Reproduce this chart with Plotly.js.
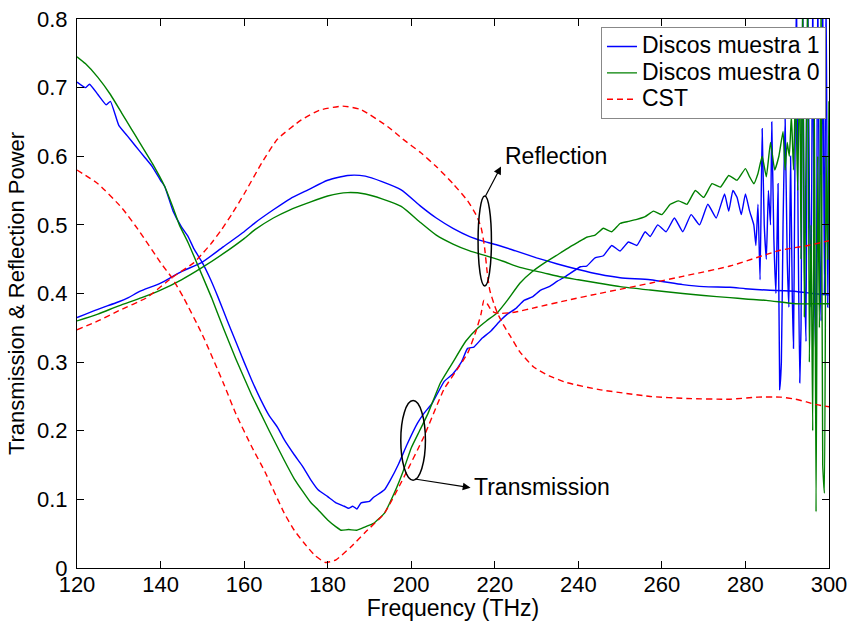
<!DOCTYPE html>
<html>
<head>
<meta charset="utf-8">
<script src="https://cdn.plot.ly/plotly-3.0.1.min.js"></script>
<style>html,body{margin:0;padding:0;background:#fff;}#chart{width:851px;height:621px;}</style>
</head>
<body>
<div id="chart"></div>
<script>
// ---- Discos muestra 1 (blue) : transmission ----
const fT1 = [120,122,123,125,127,128,130,132,134,136,138,140,141,143,145,146.6,148,150,152,153.8,156,158,160,161.8,164,166,168,169.6,172,174,176,177.7,180,182,184,185,186,187,188,190,191,193.6,195,197,199,201.5,203,205,207.9,210,212,213.5,215,217,219,221.4,223,225,227,229,231,233,235,237,240.5,242,244,246,248,250,252,254,256,257.2,259,261,263,265,267,269,271,273,275,276,277,278,279,280,281,282,282.5,283,283.5,284,284.5,285,285.5,286,286.3,286.8,287.3,287.8,288.2,288.6,289,289.5,290,290.4,290.8,291.2,291.5,291.8,292.2,292.6,293,293.3,293.7,294.1,294.5,294.9,295.3,295.7,296.1,296.5,296.9,297.3,297.7,298.1,298.5,298.9,299.3,299.7,300];
const vT1 = [0.708,0.70,0.705,0.69,0.675,0.68,0.645,0.63,0.615,0.60,0.585,0.565,0.556,0.52,0.497,0.483,0.465,0.445,0.42,0.394,0.36,0.33,0.30,0.274,0.245,0.222,0.205,0.187,0.165,0.148,0.128,0.114,0.104,0.095,0.09,0.087,0.09,0.086,0.095,0.097,0.103,0.114,0.128,0.152,0.18,0.211,0.225,0.24,0.272,0.283,0.30,0.32,0.322,0.335,0.345,0.361,0.37,0.378,0.39,0.395,0.405,0.41,0.418,0.425,0.439,0.44,0.452,0.455,0.47,0.462,0.475,0.47,0.49,0.483,0.50,0.49,0.51,0.49,0.515,0.50,0.53,0.51,0.545,0.52,0.55,0.54,0.515,0.545,0.52,0.50,0.47,0.53,0.42,0.64,0.50,0.45,0.55,0.50,0.65,0.48,0.40,0.56,0.26,0.30,0.50,0.655,0.45,0.38,0.60,0.40,0.32,0.55,0.85,0.50,0.27,0.35,0.85,0.45,0.33,0.85,0.55,0.38,0.85,0.42,0.30,0.85,0.50,0.36,0.85,0.40,0.85,0.38,0.60];
// ---- Discos muestra 1 (blue) : reflection ----
const fR1 = [120,125,130,132.3,135,140,145,149.8,155,160,162.6,167,171,175.3,180,184.8,189,193,197.6,202.3,206,210,214,217.4,221,225,230,235,240,245,250,257.2,265,270,276.3,280,285,292.2,296,300];
const vR1 = [0.365,0.377,0.388,0.394,0.403,0.415,0.432,0.445,0.468,0.49,0.503,0.522,0.538,0.551,0.565,0.572,0.571,0.563,0.551,0.527,0.51,0.495,0.483,0.476,0.47,0.462,0.452,0.443,0.435,0.428,0.423,0.42,0.413,0.41,0.409,0.407,0.405,0.403,0.40,0.398];
// ---- Discos muestra 0 (green) : transmission ----
const fT0 = [120,122,125,128,130.7,133,135,138,141,143,144.5,146.6,149,152.2,155,158,161.8,164,166,169.6,172,174,176,177.7,180,182,183.2,185,187,189,191,193.6,196,198,200,202,204,207,210,213,216,218,220.6,223,226,229,232,235.7,238,240,242,244,246,248,250,252,254,256,258,260,262,264,266,268,270,272,274,276,278,280,281,282,283,284,285,286,287,288,289,289.5,290,290.5,291,291.5,292,292.5,293,293.3,293.7,294.1,294.5,294.9,295.3,295.7,296.1,296.5,296.9,297.3,297.7,298.1,298.5,298.9,299.3,299.7,300];
const vT0 = [0.745,0.735,0.715,0.69,0.663,0.64,0.62,0.59,0.556,0.525,0.50,0.474,0.44,0.394,0.35,0.305,0.252,0.225,0.20,0.157,0.13,0.112,0.095,0.085,0.07,0.06,0.055,0.056,0.055,0.06,0.065,0.08,0.11,0.14,0.175,0.20,0.225,0.27,0.30,0.33,0.35,0.36,0.372,0.39,0.415,0.432,0.445,0.459,0.468,0.475,0.482,0.485,0.495,0.49,0.502,0.505,0.508,0.512,0.52,0.515,0.53,0.535,0.53,0.55,0.54,0.56,0.555,0.572,0.565,0.582,0.57,0.56,0.575,0.60,0.57,0.62,0.58,0.60,0.636,0.58,0.62,0.60,0.66,0.58,0.70,0.55,0.75,0.45,0.85,0.366,0.60,0.85,0.30,0.50,0.20,0.70,0.082,0.60,0.35,0.85,0.15,0.109,0.60,0.45,0.68];
// ---- Discos muestra 0 (green) : reflection ----
const fR0 = [120,125,130,135.5,140,145,150,155,160,162.6,167,171,175.3,180,184.8,189,193,197.6,202.3,206,210,214,217.4,222,226,231.7,236,240,245,250,257.2,265,270,276.3,280,285,292,296,300];
const vR0 = [0.36,0.37,0.382,0.394,0.405,0.42,0.438,0.458,0.48,0.493,0.51,0.522,0.532,0.542,0.547,0.545,0.538,0.527,0.503,0.485,0.472,0.462,0.456,0.447,0.438,0.43,0.424,0.42,0.415,0.41,0.405,0.40,0.397,0.394,0.392,0.39,0.385,0.385,0.385];
// ---- CST (red dashed) : transmission ----
const fTc = [120,125,130.7,135,140,142.7,145.5,150,155,158,161.8,165,169.6,172,174.4,177,179.5,182,185.6,189,193.6,198.3,203,207.8,210.5,213.5,215.5,216.7,217.4,218.2,219,220,221.4,225,230,237.3,245,257.2,265,276.3,288.3,295,300];
const vTc = [0.58,0.56,0.525,0.49,0.445,0.423,0.394,0.34,0.27,0.225,0.177,0.14,0.08,0.055,0.036,0.018,0.008,0.012,0.031,0.052,0.08,0.133,0.191,0.26,0.285,0.313,0.345,0.37,0.39,0.385,0.377,0.372,0.371,0.373,0.38,0.39,0.40,0.415,0.425,0.44,0.463,0.47,0.477];
// ---- CST (red dashed) : reflection ----
const fRc = [120,125,130,136.7,142.7,148,150,152,154.6,157,160,164.2,168,173.7,178,183.6,188,194.4,198,202.3,206,210,213.5,215.5,216.7,217.5,218.2,218.8,219.8,220.6,222,223.8,226,229.3,233,237.3,245,257.2,266,276.3,283,288.3,292,294.6,297,300];
const vRc = [0.347,0.36,0.375,0.394,0.423,0.445,0.458,0.472,0.493,0.515,0.545,0.59,0.625,0.653,0.667,0.673,0.668,0.643,0.625,0.605,0.585,0.56,0.535,0.515,0.497,0.47,0.43,0.405,0.385,0.372,0.355,0.337,0.315,0.293,0.28,0.27,0.26,0.25,0.247,0.246,0.249,0.249,0.246,0.242,0.238,0.235];

const seriesNames = ['Discos muestra 1','Discos muestra 0','CST'];
const xTicks = [120,140,160,180,200,220,240,260,280,300];
const yTicks = [0,0.1,0.2,0.3,0.4,0.5,0.6,0.7,0.8];
const annoTexts = ['Reflection','Transmission'];

const FONT = 'Liberation Sans, Arial, sans-serif';
const legName = s => '<span style="font-size:23px">' + s + '</span>';
const blue = {color:'#0000FF', width:1.4, shape:'spline', smoothing:0.4};
const green = {color:'#008000', width:1.4, shape:'spline', smoothing:0.4};
const blueS = {color:'#0000FF', width:1.4, shape:'spline', smoothing:0.6};
const greenS = {color:'#008000', width:1.4, shape:'spline', smoothing:0.6};
const redS = {color:'#FF0000', width:1.4, dash:'6px,4px', shape:'spline', smoothing:0.5};

const traces = [
  {x:fT1, y:vT1, mode:'lines', line:blue, name:legName(seriesNames[0]), legendgroup:'g1', showlegend:true},
  {x:fR1, y:vR1, mode:'lines', line:blueS, name:legName(seriesNames[0]), legendgroup:'g1', showlegend:false},
  {x:fT0, y:vT0, mode:'lines', line:green, name:legName(seriesNames[1]), legendgroup:'g0', showlegend:true},
  {x:fR0, y:vR0, mode:'lines', line:greenS, name:legName(seriesNames[1]), legendgroup:'g0', showlegend:false},
  {x:fTc, y:vTc, mode:'lines', line:redS, name:legName(seriesNames[2]), legendgroup:'gc', showlegend:true},
  {x:fRc, y:vRc, mode:'lines', line:redS, name:legName(seriesNames[2]), legendgroup:'gc', showlegend:false}
];

const axisCommon = {
  showline:true, linecolor:'#000', linewidth:1, mirror:'allticks',
  ticks:'inside', ticklen:7, tickcolor:'#000', tickwidth:1,
  showgrid:false, zeroline:false, automargin:false,
  tickfont:{family:FONT, size:22, color:'#000'}
};

const layout = {
  width:851, height:621,
  margin:{l:77, r:22, t:19, b:53},
  paper_bgcolor:'#fff', plot_bgcolor:'#fff',
  showlegend:true,
  xaxis: Object.assign({}, axisCommon, {
    range:[120,300], tickvals:xTicks, ticktext:xTicks.map(String),
    ticklabelstandoff:-3,
    title:{text:'Frequency (THz)', font:{family:FONT, size:23, color:'#000'}, standoff:4}
  }),
  yaxis: Object.assign({}, axisCommon, {
    range:[0,0.8], tickvals:yTicks, ticktext:yTicks.map(v=>String(v)),
    ticklabelstandoff:4,
    title:{text:'Transmission &amp; Reflection Power', font:{family:FONT, size:22, color:'#000'}, standoff:6}
  }),
  legend:{
    x:0.996, y:0.985, xanchor:'right', yanchor:'top',
    bgcolor:'#fff', bordercolor:'#888', borderwidth:1,
    font:{family:FONT, size:18, color:'#000'},
    tracegroupgap:0, itemwidth:30
  },
  shapes:[
    {type:'circle', xref:'x', yref:'y', x0:216.0, x1:219.2, y0:0.411, y1:0.542, line:{color:'#000', width:1.5}},
    {type:'circle', xref:'x', yref:'y', x0:197.5, x1:203.4, y0:0.128, y1:0.244, line:{color:'#000', width:1.5}}
  ],
  annotations:[
    {x:221.5, y:0.585, xref:'x', yref:'y', ax:217.6, ay:0.540, axref:'x', ayref:'y', text:'', showarrow:true, arrowhead:2, arrowsize:1.3, arrowwidth:1.2, arrowcolor:'#000'},
    {x:222, y:0.60, xref:'x', yref:'y', text:annoTexts[0], showarrow:false, xanchor:'left', yanchor:'middle', font:{family:FONT, size:23, color:'#000'}},
    {x:214.2, y:0.117, xref:'x', yref:'y', ax:200.5, ay:0.130, axref:'x', ayref:'y', text:'', showarrow:true, arrowhead:2, arrowsize:1.3, arrowwidth:1.2, arrowcolor:'#000'},
    {x:214.5, y:0.118, xref:'x', yref:'y', text:annoTexts[1], showarrow:false, xanchor:'left', yanchor:'middle', font:{family:FONT, size:23, color:'#000'}}
  ]
};

Plotly.newPlot('chart', traces, layout, {displayModeBar:false, staticPlot:true});
</script>
</body>
</html>
